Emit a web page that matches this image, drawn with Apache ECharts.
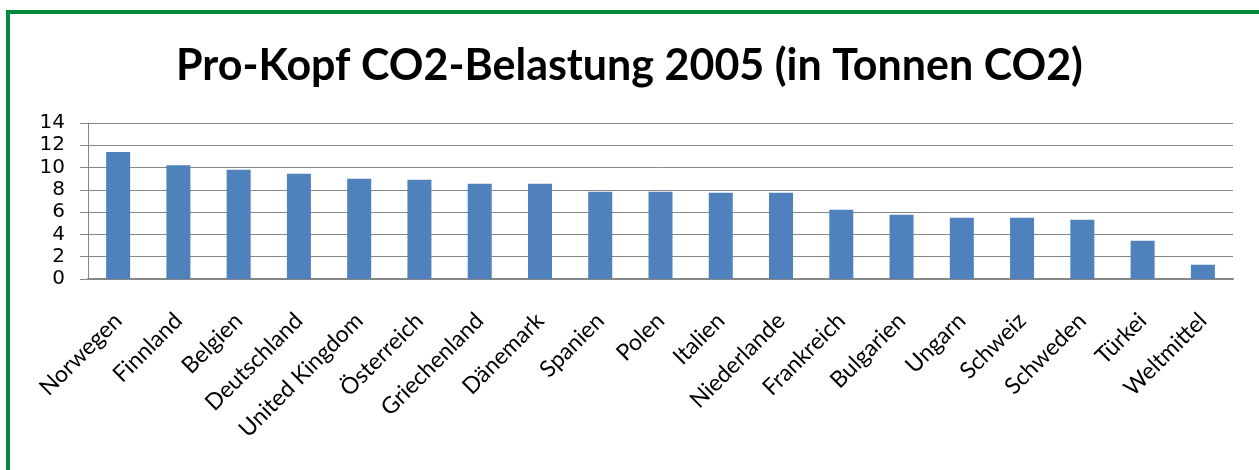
<!DOCTYPE html>
<html>
<head>
<meta charset="UTF-8">
<title>Pro-Kopf CO2-Belastung 2005</title>
<style>
  html, body { margin: 0; padding: 0; background: #fff; }
  #chart { width: 1259px; height: 470px; }
</style>
</head>
<body>
<div id="chart"></div>
<script src="https://cdn.jsdelivr.net/npm/echarts@6/dist/echarts.min.js"></script>
<script>
var countries = ['Norwegen', 'Finnland', 'Belgien', 'Deutschland', 'United Kingdom', 'Österreich',
  'Griechenland', 'Dänemark', 'Spanien', 'Polen', 'Italien', 'Niederlande', 'Frankreich',
  'Bulgarien', 'Ungarn', 'Schweiz', 'Schweden', 'Türkei', 'Weltmittel'];
var co2PerHead = [11.4, 10.2, 9.8, 9.45, 9.0, 8.9, 8.55, 8.55, 7.83, 7.83, 7.75, 7.75, 6.22,
  5.77, 5.5, 5.5, 5.32, 3.44, 1.28];
var yTicks = { min: 0, max: 14, step: 2 };

var chart = echarts.init(document.getElementById('chart'));
var gray = '#878787';

chart.setOption({
  animation: false,
  backgroundColor: '#fff',
  title: {
    text: 'Pro-Kopf CO2-Belastung 2005 (in Tonnen CO2)',
    left: 'center',
    top: 40,
    textStyle: { fontFamily: 'Lato', fontWeight: 'bold', fontSize: 43, color: '#000' }
  },
  graphic: [{
    type: 'rect',
    shape: { x: 8, y: 12, width: 1300, height: 500 },
    style: { fill: 'none', stroke: '#008A3E', lineWidth: 4 }
  }],
  grid: { left: 88, right: 26, top: 123, bottom: 191 },
  xAxis: {
    type: 'category',
    data: countries,
    axisLine: { lineStyle: { color: gray, width: 2 } },
    axisTick: { length: 8, lineStyle: { color: gray, width: 2 } },
    axisLabel: {
      rotate: 45, margin: 38, interval: 0,
      fontFamily: 'Lato', fontSize: 23, color: '#000'
    }
  },
  yAxis: {
    type: 'value',
    min: yTicks.min, max: yTicks.max, interval: yTicks.step,
    axisLine: { show: true, lineStyle: { color: gray, width: 1 } },
    axisTick: { show: true, length: 8, lineStyle: { color: gray } },
    splitLine: { lineStyle: { color: gray, width: 1 } },
    axisLabel: { margin: 23, fontFamily: 'DejaVu Sans', fontSize: 20, color: '#000' }
  },
  series: [{
    type: 'bar',
    data: co2PerHead,
    barWidth: 24,
    itemStyle: { color: '#4F81BD' }
  }]
});
</script>
</body>
</html>
